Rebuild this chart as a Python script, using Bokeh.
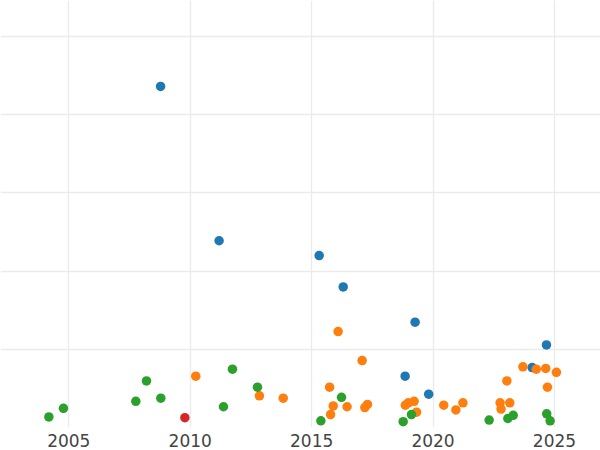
from bokeh.plotting import figure
from bokeh.embed import file_html
from bokeh.resources import INLINE
from bokeh.models import Range1d, FixedTicker

# ---- data ----
blue_x = [2008.78, 2011.19, 2015.31, 2016.30, 2019.26, 2024.67, 2018.85, 2019.82, 2024.08]
blue_y = [4.36, 2.39, 2.20, 1.80, 1.35, 1.06, 0.66, 0.43, 0.77]

orange_x = [2010.23, 2012.85, 2013.83, 2016.09, 2017.08, 2015.74, 2015.89, 2016.46, 2015.78,
            2017.19, 2017.30, 2018.86, 2018.98, 2019.22, 2019.32, 2020.44, 2020.94, 2021.23,
            2022.76, 2022.80, 2023.16, 2023.04, 2023.70, 2024.25, 2024.64, 2025.08, 2024.71]
orange_y = [0.66, 0.41, 0.38, 1.23, 0.86, 0.52, 0.28, 0.27, 0.17,
            0.26, 0.30, 0.29, 0.32, 0.34, 0.20, 0.29, 0.23, 0.32,
            0.32, 0.24, 0.32, 0.60, 0.78, 0.75, 0.76, 0.71, 0.52]

green_x = [2004.18, 2004.78, 2007.76, 2008.20, 2008.79, 2011.37, 2011.74, 2012.77, 2015.38,
           2016.23, 2018.77, 2019.11, 2022.31, 2023.08, 2023.30, 2024.68, 2024.82]
green_y = [0.14, 0.25, 0.34, 0.60, 0.38, 0.27, 0.75, 0.52, 0.09,
           0.39, 0.08, 0.17, 0.10, 0.12, 0.16, 0.18, 0.09]

red_x = [2009.78]
red_y = [0.13]

x_ticks = [2005, 2010, 2015, 2020, 2025]
y_ticks = [1, 2, 3, 4, 5]

p = figure(frame_width=600, frame_height=427, output_backend="svg", toolbar_location=None,
           x_range=Range1d(2002.188, 2026.895), y_range=Range1d(0.005, 5.458),
           min_border=0, min_border_left=0, min_border_right=0, min_border_top=0,
           min_border_bottom=0)

p.outline_line_color = None
p.background_fill_color = "white"
p.border_fill_color = "white"

p.yaxis.visible = False
p.xaxis.ticker = FixedTicker(ticks=x_ticks)
p.yaxis.ticker = FixedTicker(ticks=y_ticks)
p.xaxis.axis_line_color = None
p.xaxis.major_tick_line_color = None
p.xaxis.minor_tick_line_color = None
p.xaxis.major_tick_out = 0
p.xaxis.major_tick_in = 0
p.xaxis.major_label_standoff = 6
p.xaxis.major_label_text_font = "DejaVu Sans"
p.xaxis.major_label_text_font_size = "17px"
p.xaxis.major_label_text_color = "#444444"

p.xgrid.grid_line_color = "#ebebeb"
p.ygrid.grid_line_color = "#ebebeb"
p.xgrid.grid_line_width = 1.3
p.ygrid.grid_line_width = 1.3

sz = 9.5
p.scatter(blue_x, blue_y, size=sz, fill_color="#1f77b4", line_color=None)
p.scatter(orange_x, orange_y, size=sz, fill_color="#ff7f0e", line_color=None)
p.scatter(green_x, green_y, size=sz, fill_color="#2ca02c", line_color=None)
p.scatter(red_x, red_y, size=sz, fill_color="#d62728", line_color=None)

open("out.html", "w").write(file_html(p, INLINE))
